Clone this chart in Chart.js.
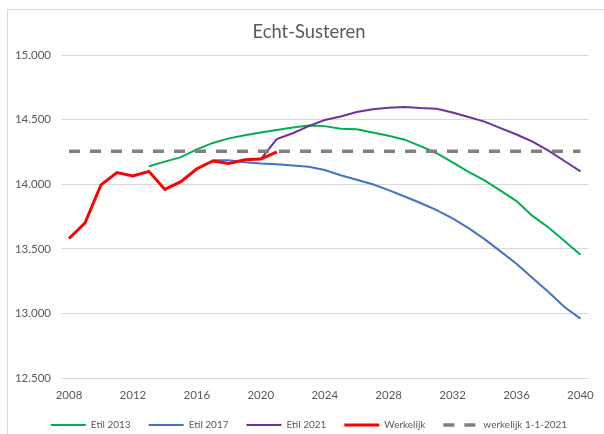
<!DOCTYPE html>
<html>
<head>
<meta charset="utf-8">
<script src="https://cdn.jsdelivr.net/npm/chart.js@4"></script>
<style>
  html, body { margin: 0; padding: 0; background: #fff; }
  #wrap { position: relative; width: 604px; height: 434px; overflow: hidden; }
  #frame { position: absolute; left: 7px; top: 9px; width: 620px; height: 450px; border: 1px solid #d9d9d9; }
  canvas { position: absolute; left: 0; top: 0; }
</style>
</head>
<body>
<div id="wrap">
  <div id="frame"></div>
  <canvas id="c" width="604" height="434"></canvas>
</div>
<script>
// years on the category axis, labelled every fourth year
const years = [];
for (let y = 2008; y <= 2040; y++) years.push(String(y));
const yearTicks = ["2008", "2012", "2016", "2020", "2024", "2028", "2032", "2036", "2040"];

// values (null = no value that year)
const etil2013 = [null, null, null, null, null,
  14140, 14175, 14210, 14270, 14320, 14355, 14380, 14400, 14420, 14440, 14455,
  14450, 14430, 14425, 14400, 14375, 14345, 14295, 14240, 14170, 14095,
  14030, 13950, 13870, 13755, 13665, 13560, 13455];
const etil2017 = [null, null, null, null, null, null, null, null, null,
  14185, 14185, 14170, 14160, 14155, 14145, 14135, 14110, 14070, 14035, 14000,
  13955, 13905, 13855, 13800, 13735, 13660, 13575, 13480, 13385, 13275, 13165, 13050, 12960];
const etil2021 = [null, null, null, null, null, null, null, null, null, null, null, null,
  14195, 14350, 14395, 14450, 14497, 14525, 14560, 14580, 14592, 14598, 14590,
  14585, 14555, 14520, 14485, 14435, 14385, 14330, 14260, 14180, 14100];
const werkelijk = [13580, 13700, 13995, 14090, 14065, 14100, 13960, 14020, 14120,
  14180, 14160, 14190, 14195, 14250];
const werkelijk2021 = years.map(() => 14255);

const grey = "#595959";
const fmt = v => String(v).replace(/\B(?=(\d{3})+(?!\d))/g, ".");

// legend entries as short lines, keeping each dataset's dash and width
function legendLines(chart) {
  const items = Chart.defaults.plugins.legend.labels.generateLabels(chart);
  return items.map(it => {
    const ds = chart.data.datasets[it.datasetIndex];
    it.lineDash = ds.borderDash || [];
    it.lineWidth = ds.borderWidth;
    it.strokeStyle = ds.borderColor;
    return it;
  });
}

new Chart(document.getElementById("c"), {
  type: "line",
  data: {
    labels: years,
    datasets: [
      { label: "Etil 2013", data: etil2013, borderColor: "#00b050", backgroundColor: "#00b050", borderWidth: 2, order: 5 },
      { label: "Etil 2017", data: etil2017, borderColor: "#4472c4", backgroundColor: "#4472c4", borderWidth: 2, order: 4 },
      { label: "Etil 2021", data: etil2021, borderColor: "#7030a0", backgroundColor: "#7030a0", borderWidth: 2, order: 3 },
      { label: "Werkelijk", data: werkelijk, borderColor: "#ff0000", backgroundColor: "#ff0000", borderWidth: 3, order: 2 },
      { label: "werkelijk 1-1-2021", data: werkelijk2021, borderColor: "#808080", backgroundColor: "#808080",
        borderWidth: 3.5, borderDash: [11, 10], order: 1 },
    ],
  },
  options: {
    responsive: false, animation: false,
    elements: { point: { radius: 0 }, line: { tension: 0, fill: false } },
    layout: { padding: { left: 14, right: 0, top: 0, bottom: 0 } },
    scales: {
      x: {
        type: "category", offset: true,
        afterFit: s => { s.height = 24; },
        grid: { display: false, drawTicks: false }, border: { display: false },
        ticks: { autoSkip: false, maxRotation: 0, padding: 10, color: grey,
                 font: { family: "Lato", size: 11.5 },
                 callback: (v, i) => yearTicks.includes(years[i]) ? years[i] : "" },
      },
      y: {
        min: 12500, max: 15000,
        afterFit: s => { s.width = 47; },
        grid: { color: "#d9d9d9", drawTicks: false }, border: { display: false },
        ticks: { stepSize: 500, padding: 10, color: grey, font: { family: "Lato", size: 11.5 }, callback: fmt },
      },
      // empty right-hand axis, only keeps the plot clear of the right edge
      yRight: {
        position: "right", min: 0, max: 1,
        afterFit: s => { s.width = 14; },
        grid: { display: false, drawTicks: false }, border: { display: false }, ticks: { display: false },
      },
    },
    plugins: {
      title: { display: true, text: "Echt-Susteren", color: grey,
               font: { family: "Lato", size: 18.4, weight: "normal" }, padding: { top: 21, bottom: 12 } },
      legend: { position: "bottom", maxHeight: 32,
                labels: { color: grey, font: { family: "Lato", size: 10 }, usePointStyle: true, pointStyle: "line",
                          pointStyleWidth: 35, padding: 18, generateLabels: legendLines,
                          sort: (a, b) => a.datasetIndex - b.datasetIndex } },
      tooltip: { enabled: false },
    },
  },
});
</script>
</body>
</html>
